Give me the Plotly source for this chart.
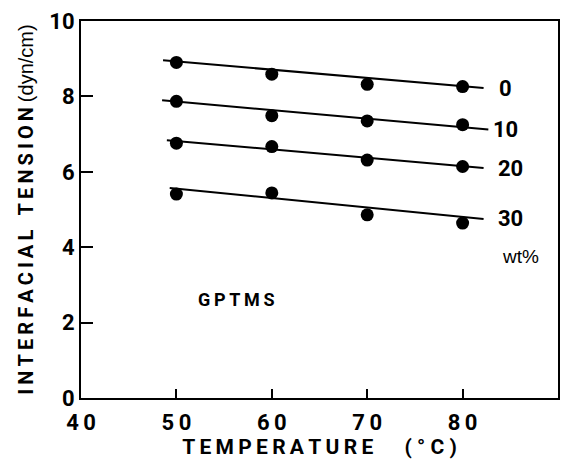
import plotly.graph_objects as go

temps = [50, 60, 70, 80]
wt_labels = ["0", "10", "20", "30"]
tension = {
    "0": [8.90, 8.59, 8.32, 8.26],
    "10": [7.87, 7.49, 7.35, 7.25],
    "20": [6.76, 6.67, 6.31, 6.14],
    "30": [5.41, 5.44, 4.86, 4.64],
}
fit_x = {"0": [48.6, 82.2], "10": [48.5, 82.7], "20": [49.0, 82.2], "30": [49.3, 82.2]}
fit_y = {"0": [8.96, 8.22], "10": [7.90, 7.12], "20": [6.84, 6.10], "30": [5.57, 4.75]}
label_pos = {"0": (83.6, 8.22), "10": (83.0, 7.12), "20": (83.5, 6.10), "30": (83.5, 4.75)}
x_ticks = [40, 50, 60, 70, 80, 90]
y_ticks = [0, 2, 4, 6, 8, 10]

FONT = "Roboto, Liberation Sans, sans-serif"
TS = "\u2009"  # thin space for letter spacing


def spaced(s):
    return TS.join(s)


fig = go.Figure()
for k in wt_labels:
    fig.add_trace(go.Scatter(x=fit_x[k], y=fit_y[k], mode="lines",
                             line=dict(color="black", width=2), showlegend=False))
    fig.add_trace(go.Scatter(x=temps, y=tension[k], mode="markers",
                             marker=dict(color="black", size=13), showlegend=False))
    lx, ly = label_pos[k]
    fig.add_annotation(x=lx, y=ly, text="<b>" + k + "</b>", showarrow=False,
                       xanchor="left", yanchor="middle",
                       font=dict(family=FONT, size=22, color="black"))

fig.add_annotation(x=83.9, y=3.75, text="wt%", showarrow=False, xanchor="left",
                   font=dict(family="Liberation Sans, sans-serif", size=19, color="black"))
fig.add_annotation(x=56.3, y=2.6, text="<b>" + spaced("GPTMS") + "</b>", showarrow=False,
                   font=dict(family=FONT, size=18, color="black"))

fig.update_layout(
    width=569, height=463,
    margin=dict(l=81, r=9, t=20, b=65),
    plot_bgcolor="white", paper_bgcolor="white",
    xaxis=dict(range=[40, 90], tickvals=x_ticks,
               ticktext=["<b>" + spaced(str(v)) + "</b>" for v in x_ticks],
               ticks="inside", ticklen=9, tickwidth=2, tickcolor="black",
               showline=True, linewidth=2, linecolor="black", mirror=True,
               showgrid=False, zeroline=False, ticklabelstandoff=4,
               tickfont=dict(family=FONT, size=22, color="black"),
               title=dict(text="<b>" + spaced("TEMPERATURE") + "      ( ° C )</b>",
                          font=dict(family=FONT, size=21, color="black"), standoff=2)),
    yaxis=dict(range=[0, 10], tickvals=y_ticks,
               ticktext=["<b>" + str(v) + "</b>" for v in y_ticks],
               ticks="inside", ticklen=12, tickwidth=2, tickcolor="black",
               showline=True, linewidth=2, linecolor="black", mirror=True,
               showgrid=False, zeroline=False,
               tickfont=dict(family=FONT, size=22, color="black"),
               title=dict(text="<b>" + spaced("INTERFACIAL") + "   " + spaced("TENSION")
                          + "</b> <span style='font-family:Liberation Sans;font-weight:normal'>(dyn/cm)</span>",
                          font=dict(family=FONT, size=20, color="black"), standoff=10)),
)

fig.write_html("out.html")
